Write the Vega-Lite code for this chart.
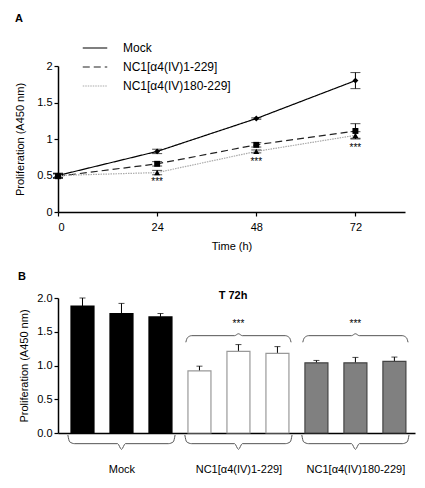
{
  "$schema": "https://vega.github.io/schema/vega-lite/v6.json",
  "padding": {"left": 14, "top": 13, "right": 5, "bottom": 5},
  "spacing": 19,
  "config": {
    "font": "Liberation Sans",
    "view": {"stroke": null},
    "axis": {
      "grid": false, "domainColor": "black", "domainWidth": 1.5, "tickColor": "black", "tickWidth": 1.2,
      "tickSize": 4, "labelFontSize": 11, "titleFontSize": 11, "titleFontWeight": "normal",
      "labelColor": "black", "titleColor": "black", "labelOverlap": false
    },
    "legend": {"rowPadding": -5},
    "title": {"fontSize": 11, "fontWeight": "bold", "color": "black"}
  },
  "vconcat": [
    {
      "width": 347, "height": 146,
      "title": {"text": "A", "anchor": "start", "frame": "group", "dx": -43, "offset": 36},
      "data": {"values": [
        {"series": "Mock", "t": 0, "mean": 0.50, "lo": 0.47, "hi": 0.53},
        {"series": "Mock", "t": 24, "mean": 0.83, "lo": 0.80, "hi": 0.86},
        {"series": "Mock", "t": 48, "mean": 1.28, "lo": 1.27, "hi": 1.29},
        {"series": "Mock", "t": 72, "mean": 1.80, "lo": 1.69, "hi": 1.91},
        {"series": "NC1[α4(IV)1-229]", "t": 0, "mean": 0.49, "lo": 0.46, "hi": 0.52},
        {"series": "NC1[α4(IV)1-229]", "t": 24, "mean": 0.66, "lo": 0.63, "hi": 0.69},
        {"series": "NC1[α4(IV)1-229]", "t": 48, "mean": 0.92, "lo": 0.89, "hi": 0.95},
        {"series": "NC1[α4(IV)1-229]", "t": 72, "mean": 1.11, "lo": 1.01, "hi": 1.21},
        {"series": "NC1[α4(IV)180-229]", "t": 0, "mean": 0.50, "lo": 0.47, "hi": 0.53},
        {"series": "NC1[α4(IV)180-229]", "t": 24, "mean": 0.54, "lo": 0.51, "hi": 0.57},
        {"series": "NC1[α4(IV)180-229]", "t": 48, "mean": 0.83, "lo": 0.81, "hi": 0.85},
        {"series": "NC1[α4(IV)180-229]", "t": 72, "mean": 1.05, "lo": 1.00, "hi": 1.10}
      ]},
      "encoding": {
        "x": {"field": "t", "type": "quantitative", "scale": {"domain": [0, 84], "nice": false},
              "axis": {"values": [0, 24, 48, 72], "title": "Time (h)", "titlePadding": 8, "labelPadding": 5}},
        "y": {"field": "mean", "type": "quantitative", "scale": {"domain": [0, 2], "nice": false},
              "axis": {"values": [0, 0.5, 1, 1.5, 2], "format": "~g", "title": "Proliferation (A450 nm)", "titlePadding": 11}}
      },
      "layer": [
        {
          "mark": {"type": "line", "strokeWidth": 1.2},
          "encoding": {
            "color": {"field": "series", "type": "nominal", "title": null,
                      "scale": {"domain": ["Mock", "NC1[α4(IV)1-229]", "NC1[α4(IV)180-229]"], "range": ["black", "#222", "#aaaaaa"]},
                      "legend": {"orient": "none", "legendX": 24, "legendY": -31, "symbolType": "stroke", "symbolSize": 600,
                                 "symbolStrokeWidth": 1.2, "labelFontSize": 12, "labelOffset": 15, "rowPadding": -5, "labelColor": "black"}},
            "strokeDash": {"field": "series", "type": "nominal", "title": null,
                           "scale": {"domain": ["Mock", "NC1[α4(IV)1-229]", "NC1[α4(IV)180-229]"], "range": [[1, 0], [7, 4], [1.5, 1]]},
                           "legend": {"orient": "none", "legendX": 24, "legendY": -31, "symbolType": "stroke", "symbolSize": 600,
                                      "symbolStrokeWidth": 1.2, "labelFontSize": 12, "labelOffset": 15, "rowPadding": -5, "labelColor": "black"}}
          }
        },
        {
          "mark": {"type": "rule", "color": "black", "strokeWidth": 1},
          "encoding": {"y": {"field": "lo", "type": "quantitative"}, "y2": {"field": "hi"}}
        },
        {
          "mark": {"type": "tick", "orient": "horizontal", "size": 10, "thickness": 1, "color": "black"},
          "encoding": {"y": {"field": "lo", "type": "quantitative"}}
        },
        {
          "mark": {"type": "tick", "orient": "horizontal", "size": 10, "thickness": 1, "color": "black"},
          "encoding": {"y": {"field": "hi", "type": "quantitative"}}
        },
        {
          "transform": [{"filter": "datum.series == 'Mock'"}],
          "mark": {"type": "point", "shape": "diamond", "filled": true, "color": "black", "opacity": 1, "size": 35}
        },
        {
          "transform": [{"filter": "datum.series == 'NC1[α4(IV)1-229]'"}],
          "mark": {"type": "point", "shape": "square", "filled": true, "color": "black", "opacity": 1, "size": 35}
        },
        {
          "transform": [{"filter": "datum.series == 'NC1[α4(IV)180-229]'"}],
          "mark": {"type": "point", "shape": "triangle-up", "filled": true, "color": "black", "opacity": 1, "size": 35}
        },
        {
          "data": {"values": [
            {"t": 24, "mean": 0.41, "label": "***"},
            {"t": 48, "mean": 0.68, "label": "***"},
            {"t": 72, "mean": 0.88, "label": "***"}
          ]},
          "mark": {"type": "text", "fontSize": 10, "color": "black", "baseline": "middle"},
          "encoding": {"text": {"field": "label"}}
        }
      ]
    },
    {
      "width": 357, "height": 135,
      "title": {"text": "B", "anchor": "start", "frame": "group", "dx": -40, "offset": 8},
      "encoding": {
        "x": {"field": "slot", "type": "quantitative", "scale": {"domain": [0.5, 9.4], "nice": false},
              "axis": {"values": [2, 5, 8], "ticks": false, "title": null, "labelPadding": 30, "labelFontSize": 11,
                       "labelExpr": "datum.value == 2 ? 'Mock' : datum.value == 5 ? 'NC1[α4(IV)1-229]' : 'NC1[α4(IV)180-229]'"}},
        "y": {"field": "mean", "type": "quantitative", "scale": {"domain": [0, 2], "nice": false},
              "axis": {"values": [0, 0.5, 1, 1.5, 2], "format": ".1f", "title": "Proliferation (A450 nm)", "titlePadding": 7}}
      },
      "layer": [
        {
          "data": {"name": "bars"},
          "mark": {"type": "rule", "color": "black", "strokeWidth": 1},
          "encoding": {"y2": {"field": "hi"}}
        },
        {
          "data": {"name": "bars"},
          "mark": {"type": "tick", "orient": "horizontal", "size": 6, "thickness": 1, "color": "black"},
          "encoding": {"y": {"field": "hi", "type": "quantitative"}}
        },
        {
          "data": {"name": "bars"},
          "mark": {"type": "bar", "orient": "vertical", "width": 23, "strokeWidth": 1.2},
          "encoding": {
            "fill": {"field": "group", "type": "nominal", "legend": null,
                     "scale": {"domain": ["Mock", "NC1[α4(IV)1-229]", "NC1[α4(IV)180-229]"], "range": ["black", "white", "#808080"]}},
            "stroke": {"field": "group", "type": "nominal", "legend": null,
                       "scale": {"domain": ["Mock", "NC1[α4(IV)1-229]", "NC1[α4(IV)180-229]"], "range": ["black", "#999999", "#444444"]}}
          }
        },
        {
          "data": {"name": "braces"},
          "mark": {"type": "line", "interpolate": "monotone", "color": "#555", "strokeWidth": 1},
          "encoding": {
            "x": {"field": "slot", "type": "quantitative"},
            "y": {"field": "mean", "type": "quantitative"},
            "detail": {"field": "brace"}
          }
        },
        {
          "data": {"values": [
            {"slot": 5, "mean": 1.61, "label": "***"},
            {"slot": 8, "mean": 1.61, "label": "***"}
          ]},
          "mark": {"type": "text", "fontSize": 10, "color": "black", "baseline": "middle"},
          "encoding": {"text": {"field": "label"}}
        },
        {
          "data": {"values": [{"slot": 4.86, "mean": 2.03, "label": "T 72h"}]},
          "mark": {"type": "text", "fontSize": 11, "fontWeight": "bold", "color": "black", "baseline": "middle"},
          "encoding": {"text": {"field": "label"}}
        }
      ]
    }
  ],
  "datasets": {
    "bars": [
      {"group": "Mock", "rep": 1, "slot": 1, "mean": 1.88, "hi": 2.0},
      {"group": "Mock", "rep": 2, "slot": 2, "mean": 1.77, "hi": 1.92},
      {"group": "Mock", "rep": 3, "slot": 3, "mean": 1.72, "hi": 1.77},
      {"group": "NC1[α4(IV)1-229]", "rep": 1, "slot": 4, "mean": 0.92, "hi": 0.99},
      {"group": "NC1[α4(IV)1-229]", "rep": 2, "slot": 5, "mean": 1.21, "hi": 1.31},
      {"group": "NC1[α4(IV)1-229]", "rep": 3, "slot": 6, "mean": 1.18, "hi": 1.28},
      {"group": "NC1[α4(IV)180-229]", "rep": 1, "slot": 7, "mean": 1.04, "hi": 1.075},
      {"group": "NC1[α4(IV)180-229]", "rep": 2, "slot": 8, "mean": 1.04, "hi": 1.12},
      {"group": "NC1[α4(IV)180-229]", "rep": 3, "slot": 9, "mean": 1.06, "hi": 1.125}
    ],
    "braces": [
      {"brace": "mock-bottom", "slot": 0.625, "mean": -0.03},
      {"brace": "mock-bottom", "slot": 0.67, "mean": -0.13},
      {"brace": "mock-bottom", "slot": 0.8, "mean": -0.158},
      {"brace": "mock-bottom", "slot": 1.9, "mean": -0.158},
      {"brace": "mock-bottom", "slot": 2.0, "mean": -0.242},
      {"brace": "mock-bottom", "slot": 2.1, "mean": -0.158},
      {"brace": "mock-bottom", "slot": 3.2, "mean": -0.158},
      {"brace": "mock-bottom", "slot": 3.33, "mean": -0.13},
      {"brace": "mock-bottom", "slot": 3.375, "mean": -0.03},
      {"brace": "nc1-bottom", "slot": 3.625, "mean": -0.03},
      {"brace": "nc1-bottom", "slot": 3.67, "mean": -0.13},
      {"brace": "nc1-bottom", "slot": 3.8, "mean": -0.158},
      {"brace": "nc1-bottom", "slot": 4.9, "mean": -0.158},
      {"brace": "nc1-bottom", "slot": 5.0, "mean": -0.242},
      {"brace": "nc1-bottom", "slot": 5.1, "mean": -0.158},
      {"brace": "nc1-bottom", "slot": 6.2, "mean": -0.158},
      {"brace": "nc1-bottom", "slot": 6.33, "mean": -0.13},
      {"brace": "nc1-bottom", "slot": 6.375, "mean": -0.03},
      {"brace": "nc180-bottom", "slot": 6.625, "mean": -0.03},
      {"brace": "nc180-bottom", "slot": 6.67, "mean": -0.13},
      {"brace": "nc180-bottom", "slot": 6.8, "mean": -0.158},
      {"brace": "nc180-bottom", "slot": 7.9, "mean": -0.158},
      {"brace": "nc180-bottom", "slot": 8.0, "mean": -0.242},
      {"brace": "nc180-bottom", "slot": 8.1, "mean": -0.158},
      {"brace": "nc180-bottom", "slot": 9.2, "mean": -0.158},
      {"brace": "nc180-bottom", "slot": 9.33, "mean": -0.13},
      {"brace": "nc180-bottom", "slot": 9.375, "mean": -0.03},
      {"brace": "nc1-top", "slot": 3.65, "mean": 1.344},
      {"brace": "nc1-top", "slot": 3.69, "mean": 1.41},
      {"brace": "nc1-top", "slot": 3.8, "mean": 1.442},
      {"brace": "nc1-top", "slot": 4.9, "mean": 1.442},
      {"brace": "nc1-top", "slot": 5.0, "mean": 1.47},
      {"brace": "nc1-top", "slot": 5.1, "mean": 1.442},
      {"brace": "nc1-top", "slot": 6.2, "mean": 1.442},
      {"brace": "nc1-top", "slot": 6.31, "mean": 1.41},
      {"brace": "nc1-top", "slot": 6.35, "mean": 1.344},
      {"brace": "nc180-top", "slot": 6.65, "mean": 1.344},
      {"brace": "nc180-top", "slot": 6.69, "mean": 1.41},
      {"brace": "nc180-top", "slot": 6.8, "mean": 1.442},
      {"brace": "nc180-top", "slot": 7.9, "mean": 1.442},
      {"brace": "nc180-top", "slot": 8.0, "mean": 1.47},
      {"brace": "nc180-top", "slot": 8.1, "mean": 1.442},
      {"brace": "nc180-top", "slot": 9.2, "mean": 1.442},
      {"brace": "nc180-top", "slot": 9.31, "mean": 1.41},
      {"brace": "nc180-top", "slot": 9.35, "mean": 1.344}
    ]
  }
}
